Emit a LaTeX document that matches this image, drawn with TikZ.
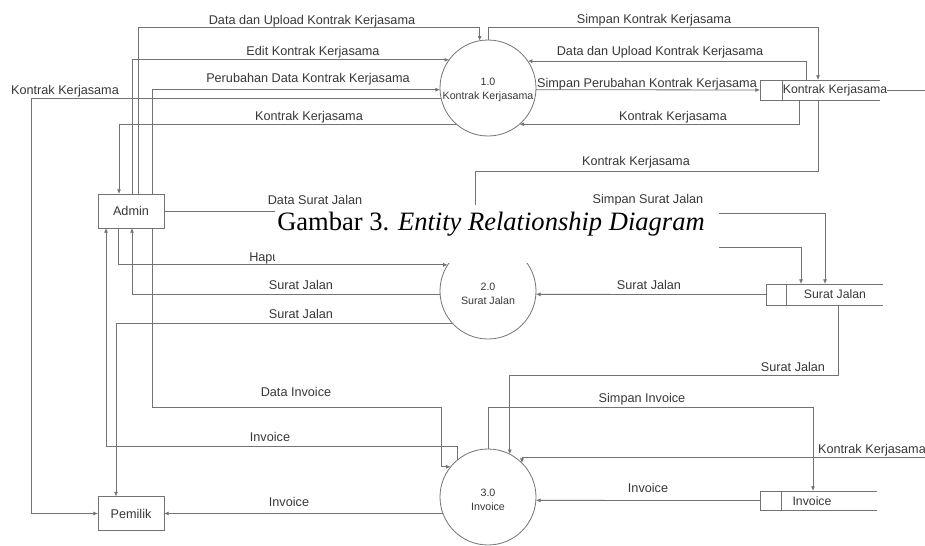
\documentclass[tikz,border=0pt]{standalone}
\usepackage{fontspec}
\setmainfont{Liberation Sans}
\newfontfamily\capfont{Liberation Serif}
\usetikzlibrary{arrows.meta,calc}
\definecolor{linecol}{gray}{0.45}
\definecolor{textcol}{gray}{0.22}
\newcommand\storeshape[2]{%
  \draw[line] (#1.north east) -- (#1.north west) -- (#1.south west) -- (#1.south east);
  \draw[line] ($(#1.north west)+(#2,0)$) -- ($(#1.south west)+(#2,0)$);}
\begin{document}
\begin{tikzpicture}[x=0.75pt,y=-0.75pt,
 line/.style={draw=linecol,line width=0.6pt},
 flow/.style={line,-{Latex[length=3.5pt,width=3pt]}},
 lbl/.style={text=textcol,font=\fontsize{9.5}{11}\selectfont,inner sep=0pt},
 storetext/.style={text=textcol,font=\fontsize{9.2}{11}\selectfont,inner sep=0pt},
 ent/.style={draw=linecol,line width=0.6pt,minimum width=49.5pt,minimum height=25.5pt,inner sep=0pt,outer sep=0pt,text=textcol,font=\fontsize{9.5}{11}\selectfont},
 proc/.style={circle,draw=linecol,line width=0.6pt,minimum size=72pt,inner sep=0pt,outer sep=0pt},
 ptext/.style={text=textcol,font=\fontsize{8}{10.5}\selectfont,align=center,inner sep=0pt},
 storebox/.style={minimum height=15pt,inner sep=0pt,outer sep=0pt},
]
\fill[white] (0,0) rectangle (925,546);
\useasboundingbox (0,0) rectangle (925,546);

% entities and processes
\node[ent] (admin) at (131,211) {Admin};
\node[ent] (pemilik) at (131,513.5) {Pemilik};
\node[proc] (p1) at (488,88) {};
\node[proc] (p2) at (488,291) {};
\node[proc] (p3) at (488,497) {};
\node[ptext] (p1t) at ($(p1)+(0,2)$) {1.0\\Kontrak Kerjasama};
\node[ptext] (p2t) at ($(p2)+(0,3)$) {2.0\\Surat Jalan};
\node[ptext] (p3t) at ($(p3)+(0,3)$) {3.0\\Invoice};

% data stores
\node[storebox,minimum width=90pt] (s1) at (820,90) {};
\node[storebox,minimum width=87.75pt,minimum height=15.75pt] (s2) at (824.5,294.5) {};
\node[storebox,minimum width=87.75pt,minimum height=14.25pt] (s3) at (818.5,500.5) {};
\storeshape{s1}{22}
\storeshape{s2}{20}
\storeshape{s3}{21}
\node[storetext] (s1t) at (835,90) {Kontrak Kerjasama};
\node[storetext] (s2t) at (835,294) {Surat Jalan};
\node[storetext] (s3t) at (812,501) {Invoice};

\coordinate (kkout) at (925,90);
\coordinate (kkin) at (925,457);

% flows around process 1.0
\draw[flow] ($(admin.north)+(7,0)$) |- ($(p1.100)+(0,-13.5)$) -- (p1.100);
\draw[flow] ($(admin.north)+(1,0)$) |- (p1.144);
\draw[flow] ($(admin.north)+(21,0)$) |- (p1.182);
\draw[flow] (p1.192) -| ($(pemilik.west)+(-67,0)$) -- (pemilik.west);
\draw[flow] (p1.229) -| ($(admin.north)+(-12,0)$);
\draw[flow] (p1.north) -- ++(0,-13) -| ($(s1.north)+(-2,0)$);
\draw[flow] ($(s1.north)+(-14,0)$) |- (p1.34);
\draw[flow] (p1.-2) -- (s1.west);
\draw[flow] ($(s1.south)+(-21,0)$) |- (p1.-49);
\draw[line] (s1t.east) -- (kkout);

% flows around process 2.0
\draw[flow] ($(s1.south)+(-2,0)$) |- ($(p2.105)+(0,-73)$) -- (p2.105);
\draw[flow] (admin.east) -| (p2.115);
\draw[flow] (p2.80) -- ++(0,-30) -| ($(s2.north)+(0.5,0)$);
\draw[flow] (p2.66) -| ($(s2.north)+(-23.5,0)$);
\draw[flow] ($(admin.south)+(-13,0)$) |- (p2.147);
\draw[flow] (p2.184) -| ($(admin.south)+(1,0)$);
\draw[flow] (p2.222) -| ($(pemilik.north)+(-15,0)$);
\draw[flow] (s2.west) -- (p2.-4);

% flows around process 3.0
\draw[flow] ($(s2.south)+(13.5,0)$) |- ($(p3.63)+(0,-79)$) -- (p3.63);
\draw[flow] (p3.north) -- ++(0,-42) -| ($(s3.north)+(-5.5,0)$);
\draw[flow] (kkin) -| (p3.45);
\draw[flow] (s3.west) -- (p3.-4);
\draw[flow] (p3.200) -- (pemilik.east);
\draw[flow] (p3.130) -- ++(0,-14) -| ($(admin.south)+(-25,0)$);
\draw[flow] ($(admin.south)+(21,0)$) |- ($(p3.141)+(-9.5,-59)$) |- (p3.141);

% labels
\node[lbl] at (312,21) {Data dan Upload Kontrak Kerjasama};
\node[lbl] at (313,52) {Edit Kontrak Kerjasama};
\node[lbl] at (308,79) {Perubahan Data Kontrak Kerjasama};
\node[lbl] at (65,91) {Kontrak Kerjasama};
\node[lbl] at (309,117) {Kontrak Kerjasama};
\node[lbl] at (654,20) {Simpan Kontrak Kerjasama};
\node[lbl] at (660,52) {Data dan Upload Kontrak Kerjasama};
\node[lbl] at (647,84) {Simpan Perubahan Kontrak Kerjasama};
\node[lbl] at (673,117) {Kontrak Kerjasama};
\node[lbl] at (636,162) {Kontrak Kerjasama};
\node[lbl] at (648,200) {Simpan Surat Jalan};
\node[lbl] at (315,200) {Data Surat Jalan};
\node[lbl,anchor=west] at (249,258) {Hapus Surat Jalan};
\node[lbl] at (301,285) {Surat Jalan};
\node[lbl] at (301,314) {Surat Jalan};
\node[lbl] at (649,285) {Surat Jalan};
\node[lbl] at (793,367) {Surat Jalan};
\node[lbl] at (642,399) {Simpan Invoice};
\node[lbl] at (296,392) {Data Invoice};
\node[lbl] at (270,437) {Invoice};
\node[lbl] at (289,502) {Invoice};
\node[lbl] at (872,450) {Kontrak Kerjasama};
\node[lbl] at (648,488) {Invoice};

% caption overlay
\fill[white] (275,205) rectangle (719,263);
\node[anchor=base west,inner sep=0pt,font=\capfont\fontsize{19.9}{24}\selectfont] (cap) at (277,230) {Gambar 3. \textit{Entity Relationship Diagram}};
\end{tikzpicture}
\end{document}
